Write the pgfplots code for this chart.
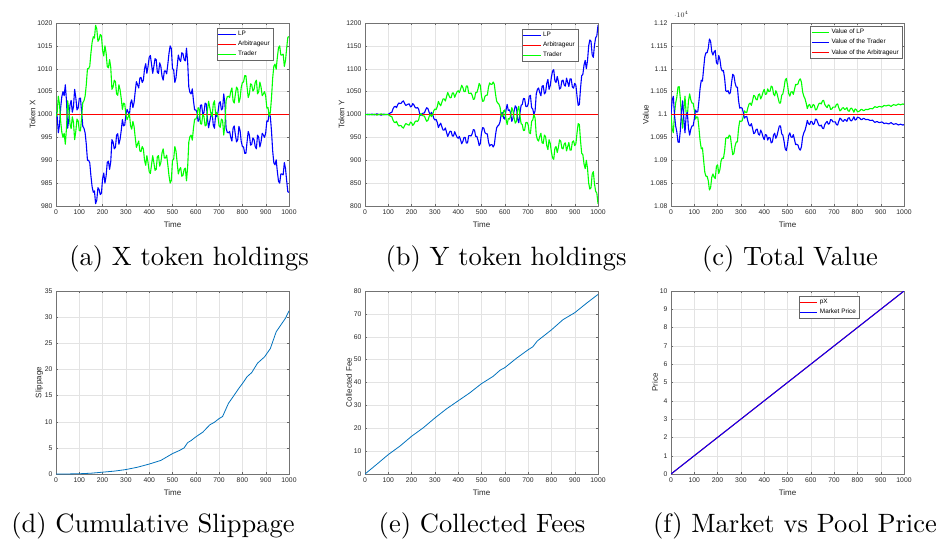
\documentclass[border=0pt]{standalone}
\usepackage{fontspec}
\usepackage{graphicx}
\usepackage{pgfplots}
\usepackage{pgfplotstable}
\pgfplotsset{compat=1.18}
\newfontfamily\hv{Liberation Sans}
\definecolor{mblue}{rgb}{0,0.447,0.741}

\pgfplotstableread{
t lp tr
0 1000.5 999.5
5 999.6 1000.4
10 996.0 1004.0
15 997.7 1002.3
20 1001.5 998.5
25 1003.9 996.1
30 1005.0 995.0
35 1004.1 995.9
40 1006.5 993.5
45 1003.0 997.0
50 997.0 1003.0
55 999.0 1001.0
60 1002.0 998.0
65 1003.1 996.9
70 1000.5 999.5
75 1001.7 998.3
80 1005.5 994.5
85 1003.7 996.3
90 1001.0 999.0
95 1001.4 998.6
100 1003.5 996.5
105 1003.6 996.4
110 1000.5 999.5
115 997.4 1002.6
120 997.0 1003.0
125 996.0 1004.0
130 993.5 1006.5
135 990.0 1010.0
140 990.0 1010.0
145 989.4 1010.6
150 986.5 1013.5
155 984.2 1015.8
160 983.0 1017.0
165 983.3 1016.7
170 980.5 1019.5
175 981.3 1018.7
180 984.0 1016.0
185 983.6 1016.4
190 982.5 1017.5
195 982.8 1017.2
200 986.0 1014.0
205 987.2 1012.8
210 985.0 1015.0
215 986.5 1013.5
220 989.5 1010.5
225 989.8 1010.2
230 988.0 1012.0
235 989.7 1010.3
240 994.5 1005.5
245 994.0 1006.0
250 992.5 1007.5
255 992.8 1007.2
260 995.5 1004.5
265 995.8 1004.2
270 993.5 1006.5
275 994.6 1005.4
280 996.5 1003.5
285 998.9 1001.1
290 997.5 1002.5
295 997.7 1002.3
300 1000.0 1000.0
305 1001.1 998.9
310 1000.5 999.5
315 999.8 1000.2
320 1002.5 997.5
325 1003.2 996.8
330 1001.5 998.5
335 1002.6 997.4
340 1005.0 995.0
345 1007.2 992.8
350 1006.5 993.5
355 1005.8 994.2
360 1008.0 992.0
365 1008.1 991.9
370 1007.0 993.0
375 1007.5 992.5
380 1010.0 990.0
385 1011.1 988.9
390 1009.0 991.0
395 1010.5 989.5
400 1012.5 987.5
405 1012.9 987.1
410 1011.0 989.0
415 1009.0 991.0
420 1010.5 989.5
425 1012.2 987.8
430 1012.0 988.0
435 1009.2 990.8
440 1009.0 991.0
445 1011.3 988.7
450 1010.5 989.5
455 1008.4 991.6
460 1007.5 992.5
465 1009.5 990.5
470 1009.5 990.5
475 1008.9 991.1
480 1011.0 989.0
485 1013.4 986.6
490 1015.0 985.0
495 1014.4 985.6
500 1010.0 990.0
505 1009.8 990.2
510 1007.0 993.0
515 1008.0 992.0
520 1010.5 989.5
525 1013.0 987.0
530 1012.0 988.0
535 1011.6 988.4
540 1013.5 986.5
545 1013.3 986.7
550 1012.0 988.0
555 1011.7 988.3
560 1014.5 985.5
565 1011.5 988.5
570 1006.0 994.0
575 1004.8 995.2
580 1004.5 995.5
585 1005.6 994.4
590 1003.0 997.0
595 1001.0 999.0
600 1001.0 999.0
605 1000.5 999.5
610 998.5 1001.5
615 998.9 1001.1
620 1002.0 998.0
625 1002.1 997.9
630 1000.0 1000.0
635 1000.4 999.6
640 1002.5 997.5
645 1002.3 997.7
650 999.0 1001.0
655 997.1 1002.9
660 998.5 1001.5
665 999.8 1000.2
670 1000.5 999.5
675 997.7 1002.3
680 997.0 1003.0
685 999.9 1000.1
690 999.5 1000.5
695 1000.4 999.6
700 1002.5 997.5
705 1002.8 997.2
710 1001.0 999.0
715 1001.3 998.7
720 1004.5 995.5
725 1002.2 997.8
730 997.0 1003.0
735 996.1 1003.9
740 996.0 1004.0
745 996.3 1003.7
750 995.0 1005.0
755 994.2 1005.8
760 997.0 1003.0
765 997.5 1002.5
770 995.5 1004.5
775 994.0 1006.0
780 994.5 1005.5
785 997.4 1002.6
790 996.5 1003.5
795 994.1 1005.9
800 993.0 1007.0
805 992.9 1007.1
810 991.5 1008.5
815 991.5 1008.5
820 994.0 1006.0
825 996.3 1003.7
830 995.5 1004.5
835 993.3 1006.7
840 993.5 1006.5
845 994.9 1005.1
850 994.5 1005.5
855 993.0 1007.0
860 992.5 1007.5
865 995.5 1004.5
870 995.0 1005.0
875 992.9 1007.1
880 994.0 1006.0
885 995.9 1004.1
890 995.5 1004.5
895 995.0 1005.0
900 996.0 1004.0
905 998.6 1001.4
910 998.5 1001.5
915 1000.4 999.6
920 999.5 1000.5
925 996.3 1003.7
930 992.0 1008.0
935 989.4 1010.6
940 989.0 1011.0
945 990.1 1009.9
950 987.5 1012.5
955 985.4 1014.6
960 985.0 1015.0
965 987.0 1013.0
970 987.0 1013.0
975 986.8 1013.2
980 989.5 1010.5
985 988.2 1011.8
990 985.5 1014.5
995 983.1 1016.9
1000 983.0 1017.0
}\tabA

\pgfplotstableread{
t lp tr
0 1000 1000
10 1000.5 999.5
20 999.5 1000.5
30 1001 999
40 999 1001
50 1001.5 998.5
60 1000 1000
70 998.5 1001.5
80 1001 999
90 999.5 1000.5
100 1000.5 999.5
110 1004 996
115 1004.5 995.5
120 1012 988
125 1016.8 983.2
130 1018 982
135 1015.0 985.0
140 1021 979
145 1025.3 974.7
150 1024 976
155 1024.5 975.5
160 1028 972
165 1029.8 970.2
170 1024 976
175 1020.0 980.0
180 1021 979
185 1022.8 977.2
190 1023 977
195 1016.8 983.2
200 1018 982
205 1023.8 976.2
210 1021 979
215 1015.5 984.5
220 1014 986
225 1015.5 984.5
230 1012 988
235 1001.0 999.0
240 998 1002
245 1001.8 998.2
250 1003 997
255 1003.5 996.5
260 1010 990
265 1014.8 985.2
270 1013 987
275 1005.0 995.0
280 999 1001
285 1004.8 995.2
290 1001 999
295 991.8 1008.2
300 988 1012
305 989.5 1010.5
310 983 1017
315 971.5 1028.5
320 977 1023
325 981 1019
330 973 1027
335 966 1034
340 966 1034
345 970.5 1029.5
350 961 1039
355 952 1048
360 958 1042
365 963.5 1036.5
370 963 1037
375 953 1047
380 953 1047
385 962.5 1037.5
390 956 1044
395 950.5 1049.5
400 948 1052
405 952 1048
410 945 1055
415 936 1064
420 941 1059
425 950 1050
430 950 1050
435 937.5 1062.5
440 938 1062
445 953.5 1046.5
450 954 1046
455 953 1047
460 958 1042
465 967 1033
470 966 1034
475 952 1048
480 952 1048
485 944 1056
490 932 1068
495 936.5 1063.5
500 960 1040
505 971.5 1028.5
510 970 1030
515 960 1040
520 958 1042
525 957.5 1042.5
530 940 1060
535 931 1069
540 934 1066
545 934 1066
550 929 1071
555 934 1066
560 955 1045
565 971 1029
570 975 1025
575 977.5 1022.5
580 985 1015
585 1003.5 996.5
590 1004 996
595 992 1008
600 990 1010
605 1009.5 990.5
610 1022 978
615 1009 991
620 1010 990
625 1003 997
630 985 1015
635 992 1008
640 1008 992
645 1019 981
650 1015 985
655 990 1010
660 982 1018
665 1002.5 997.5
670 1020 980
675 1022 978
680 1035 965
685 1034.5 965.5
690 1018 982
695 1017 983
700 1022 978
705 1040 960
710 1042 958
715 1015 985
720 1012 988
725 1000 1000
730 1008 992
735 1045 955
740 1055 945
745 1058 942
750 1048 952
755 1041 959
760 1062 938
765 1063 937
770 1045 955
775 1048.5 951.5
780 1068 932
785 1076.7 923.3
790 1055 945
795 1063 937
800 1082 918
805 1095 905
810 1098 902
815 1073.6 926.4
820 1070 930
825 1083 917
830 1072 928
835 1055.4 944.6
840 1058 942
845 1073.7 926.3
850 1075 925
855 1064.5 935.5
860 1062 938
865 1079.6 920.4
870 1070 930
875 1061.2 938.8
880 1078 922
885 1077.8 922.2
890 1060 940
895 1057.6 942.4
900 1068 932
905 1064.4 935.6
910 1040 960
915 1019.8 980.2
920 1022 978
925 1057.5 942.5
930 1085 915
935 1087.7 912.3
940 1108 892
945 1118.4 881.6
950 1100 900
955 1117.8 882.2
960 1150 850
965 1163 837
970 1160 840
975 1130.5 869.5
980 1125 875
985 1152.1 847.9
990 1168 832
995 1171.9 828.1
1000 1195 805
}\tabB

\pgfplotstableread{
t tr lp
0 11000 11000
5 11031 10969
10 11040 10960
15 10999 11001
20 10975 11025
25 10962 11038
30 10940 11060
35 10939 11061
40 10965 11035
45 11007 10993
50 11030 10970
55 10991 11009
60 10960 11040
65 10997 11003
70 11005 10995
75 10970 11030
80 10955 11045
85 10968 11032
90 10975 11025
95 10975 11025
100 10990 11010
105 11010 10990
110 11005 10995
115 11006 10994
120 11030 10970
125 11058 10942
130 11075 10925
135 11073 10927
140 11100 10900
145 11126 10874
150 11135 10865
155 11135 10865
160 11145 10855
165 11165 10835
170 11160 10840
175 11137 10863
180 11130 10870
185 11137 10863
190 11140 10860
195 11113 10887
200 11110 10890
205 11129 10871
210 11120 10880
215 11101 10899
220 11095 10905
225 11096 10904
230 11080 10920
235 11052 10948
240 11050 10950
245 11052 10948
250 11045 10955
255 11048 10952
260 11070 10930
265 11088 10912
270 11085 10915
275 11069 10931
280 11060 10940
285 11060 10940
290 11030 10970
295 11014 10986
300 11015 10985
305 11014 10986
310 11005 10995
315 10992 11008
320 10995 11005
325 10996 11004
330 10985 11015
335 10977 11023
340 10975 11025
345 10980 11020
350 10970 11030
355 10958 11042
360 10960 11040
365 10967 11033
370 10968 11032
375 10957 11043
380 10955 11045
385 10966 11034
390 10960 11040
395 10951 11049
400 10945 11055
405 10956 11044
410 10955 11045
415 10944 11056
420 10950 11050
425 10949 11051
430 10938 11062
435 10940 11060
440 10955 11045
445 10959 11041
450 10948 11052
455 10954 11046
460 10965 11035
465 10975 11025
470 10975 11025
475 10958 11042
480 10955 11045
485 10942 11058
490 10925 11075
495 10921 11079
500 10935 11065
505 10954 11046
510 10960 11040
515 10951 11049
520 10950 11050
525 10956 11044
530 10945 11055
535 10934 11066
540 10935 11065
545 10933 11067
550 10925 11075
555 10922 11078
560 10930 11070
565 10951 11049
570 10960 11040
575 10965 11035
580 10975 11025
585 10987 11013
590 10980 11020
595 10978 11022
600 10985 11015
605 10984 11016
610 10978 11022
615 10980 11020
620 10990 11010
625 10989 11011
630 10982 11018
635 10976 11024
640 10975 11025
645 10977 11023
650 10970 11030
655 10969 11031
660 10978 11022
665 10982 11018
670 10985 11015
675 10979 11021
680 10980 11020
685 10989 11011
690 10988 11012
695 10984 11016
700 10984 11016
705 10984 11016
710 10978 11022
715 10977 11023
720 10985 11015
725 10992 11008
730 10990 11010
735 10986 11014
740 10985 11015
745 10989 11011
750 10988 11012
755 10985 11015
760 10992 11008
765 10993 11007
770 10987 11013
775 10986 11014
780 10990 11010
785 10995 11005
790 10988 11012
795 10989 11011
800 10994 11006
805 10993.6 11006.4
810 10992 11008
815 10989.2 11010.8
820 10989 11011
825 10991.5 11008.5
830 10991 11009
835 10988.8 11011.2
840 10989 11011
845 10989.4 11010.6
850 10988 11012
855 10987 11013
860 10987 11013
865 10987.7 11012.3
870 10985 11015
875 10982.9 11017.1
880 10984 11016
885 10984.6 11015.4
890 10983 11017
895 10982.2 11017.8
900 10983 11017
905 10983.8 11016.2
910 10982 11018
915 10980.1 11019.9
920 10981 11019
925 10981 11019
930 10980 11020
935 10979.4 11020.6
940 10981 11019
945 10982.3 11017.7
950 10980 11020
955 10978.6 11021.4
960 10979 11021
965 10980 11020
970 10979 11021
975 10977 11023
980 10978 11022
985 10978.7 11021.3
990 10978 11022
995 10976.8 11023.2
1000 10978 11022
}\tabC

\pgfplotstableread{
t s
0 0
50 0.01
100 0.05
150 0.15
200 0.35
250 0.55
300 0.85
350 1.3
400 1.9
450 2.6
500 3.9
530 4.5
550 5.0
565 6.0
580 6.4
600 7.1
630 8.0
660 9.4
680 9.9
700 10.6
715 11.0
740 13.5
765 15.1
785 16.4
805 17.6
820 18.6
840 19.4
865 21.2
895 22.4
920 24.0
945 27.2
965 28.5
985 29.8
1000 31.2
}\tabD

\pgfplotstableread{
t f
0 0
50 4.2
100 8.5
150 12.2
200 16.5
250 20.2
300 24.5
350 28.5
400 32
450 35.5
500 39.5
550 42.7
580 45.4
600 46.5
650 50.6
700 54.3
720 55.6
740 58.2
800 63
850 67.5
870 68.7
900 70.5
950 74.6
1000 78.5
}\tabE

\pgfplotsset{
 mat/.style={
  scale only axis, width=233pt, height=183pt, anchor=north west,
  xmin=0, xmax=1000, xtick={0,100,...,1000},
  grid=major, major grid style={black!11, line width=0.4pt},
  tick align=inside,
  axis line style={black!55, line width=0.5pt},
  tick style={black!60, line width=0.4pt},
  major tick length=2.3pt,
  tick label style={font=\hv\fontsize{6.8}{8}\selectfont, text=black!85},
  /pgf/number format/assume math mode=true,
  /pgf/number format/1000 sep={},
  label style={font=\hv\fontsize{8}{9}\selectfont, text=black!85},
  ylabel style={yshift=-5pt},
  xlabel={Time},
  legend cell align=left,
  legend style={font=\hv\fontsize{6.4}{7.6}\selectfont, draw=black!60, line width=0.4pt,
    inner sep=1pt, anchor=north east, fill=white},
 },
 walk/.style={line width=1.1pt, line join=round},
}

\newcommand{\subcap}[1]{\scalebox{2.65}{\fontsize{10}{12}\selectfont #1}}

\begin{document}
\begin{tikzpicture}
\path[use as bounding box] (0,0) rectangle (937pt,-541pt);

% (a)
\begin{axis}[mat, at={(56pt,-23pt)}, ymin=980, ymax=1020, ytick={980,985,...,1020},
  ylabel={Token X}, legend style={at={(0.931,0.973)}}]
\addplot[walk, blue] table[x=t, y=lp] {\tabA};
\addplot[walk, red] coordinates {(0,1000) (1000,1000)};
\addplot[walk, green] table[x=t, y=tr] {\tabA};
\legend{LP, Arbitrageur, Trader}
\end{axis}

% (b)
\begin{axis}[mat, at={(365pt,-23pt)}, ymin=800, ymax=1200, ytick={800,850,...,1200},
  ylabel={Token Y}, legend style={at={(0.914,0.967)}}]
\addplot[walk, blue] table[x=t, y=lp] {\tabB};
\addplot[walk, red] coordinates {(0,1000) (1000,1000)};
\addplot[walk, green] table[x=t, y=tr] {\tabB};
\legend{LP, Arbitrageur, Trader}
\end{axis}

% (c)
\begin{axis}[mat, at={(671pt,-23pt)}, ymin=10800, ymax=11200, ytick={10800,10850,...,11200},
  yticklabels={1.08,1.085,1.09,1.095,1.1,1.105,1.11,1.115,1.12},
  ylabel={Value}, legend style={at={(0.991,0.984)}}]
\addplot[walk, green] table[x=t, y=lp] {\tabC};
\addplot[walk, blue] table[x=t, y=tr] {\tabC};
\addplot[walk, red] coordinates {(0,11000) (1000,11000)};
\legend{Value of LP, Value of the Trader, Value of the Arbitrageur}
\node[anchor=south west, inner sep=0.5pt, font=\hv\fontsize{5.5}{6}\selectfont, text=black!85] at (axis description cs:0,1) {×10\textsuperscript{4}};
\end{axis}

% (d)
\begin{axis}[mat, at={(56pt,-291pt)}, ymin=0, ymax=35, ytick={0,5,...,35},
  ylabel={Slippage}]
\addplot[mblue, line width=0.8pt] table[x=t, y=s] {\tabD};
\end{axis}

% (e)
\begin{axis}[mat, at={(365pt,-291pt)}, ymin=0, ymax=80, ytick={0,10,...,80},
  ylabel={Collected Fee}]
\addplot[mblue, line width=0.8pt] table[x=t, y=f] {\tabE};
\end{axis}

% (f)
\begin{axis}[mat, at={(671pt,-291pt)}, ymin=0, ymax=10, ytick={0,1,...,10},
  ylabel={Price}, legend style={at={(0.807,0.973)}}]
\addplot[red, line width=1pt] coordinates {(0,0) (500,5) (1000,10)};
\addplot[blue, line width=1pt] coordinates {(0,0) (500,5) (1000,10)};
\legend{pX, Market Price}
\end{axis}

\begin{scope}[every node/.style={anchor=base, inner sep=0pt}]
\node at (189pt,-265pt) {\subcap{(a) X token holdings}};
\node at (506pt,-265pt) {\subcap{(b) Y token holdings}};
\node at (790pt,-265pt) {\subcap{(c) Total Value}};
\node at (153pt,-532pt) {\subcap{(d) Cumulative Slippage}};
\node at (482pt,-532pt) {\subcap{(e) Collected Fees}};
\node at (795pt,-532pt) {\subcap{(f) Market vs Pool Price}};
\end{scope}
\end{tikzpicture}
\end{document}
